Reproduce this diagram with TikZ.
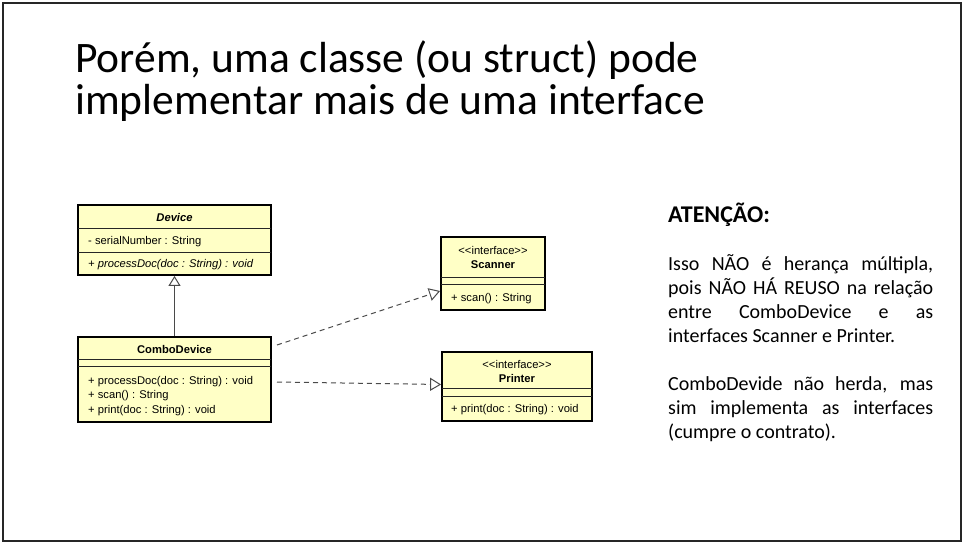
\documentclass[tikz,border=0pt]{standalone}
\usepackage{fontspec}
\setmainfont{Carlito}
\newfontfamily\umlfont{Liberation Sans}
\usetikzlibrary{arrows.meta}
\definecolor{umlfill}{HTML}{FFFFC6}
\definecolor{linkgray}{HTML}{4A4A4A}
\newcommand{\umlsize}{\fontsize{11.2}{13}\selectfont}
\tikzset{
  umlbox/.style={draw=black, line width=1.8pt, fill=umlfill, inner sep=0pt},
  sepline/.style={draw=black!85, line width=0.9pt},
  umltext/.style={font=\umlfont\umlsize, inner sep=0pt},
  umlleft/.style={umltext, anchor=base west},
  umlmid/.style={umltext, anchor=base},
  umlbold/.style={umlmid, font=\umlfont\bfseries\umlsize},
  generalize/.style={draw=linkgray, line width=1pt, -{Triangle[open, length=10pt, width=12pt, fill=white]}},
  realize/.style={draw=linkgray, line width=1pt, dash pattern=on 5pt off 4pt,
    -{Triangle[open, length=11pt, width=13pt, fill=white]}},
  titleline/.style={anchor=base west, inner sep=0pt, font=\fontsize{43.5}{46}\selectfont},
  noteline/.style={anchor=base west, inner sep=0pt, font=\fontsize{20}{24}\selectfont},
}
\newcommand{\just}[1]{\makebox[265pt][s]{#1}}
\begin{document}
\begin{tikzpicture}[x=1pt, y=-1pt]
\useasboundingbox (0,0) rectangle (964,544);
% slide frame
\draw[line width=2pt, draw=black!85] (3,3) rectangle (961,541);

% title
\node[titleline] (title1) at (75,72) {Porém, uma classe (ou struct) pode};
\node[titleline] (title2) at (75,114) {implementar mais de uma interface};

% class Device
\node[umlbox, minimum width=193pt, minimum height=70pt] (device) at (174.5,240) {};
\draw[sepline] (78,228) -- (271,228);
\draw[sepline] (78,252) -- (271,252);
\node[umlmid, font=\umlfont\bfseries\itshape\umlsize] (devname) at (174.5,221) {Device};
\node[umlleft] (devattr) at (88,244) {- serialNumber : String};
\node[umlleft, font=\umlfont\itshape\umlsize] (devop) at (88,267) {+ processDoc(doc : String) : void};

% class ComboDevice
\node[umlbox, minimum width=193pt, minimum height=85pt] (combo) at (174.5,379.5) {};
\draw[sepline] (78,359) -- (271,359);
\draw[sepline] (78,366) -- (271,366);
\node[umlbold] (comboname) at (174.5,353) {ComboDevice};
\node[umlleft] (comboop1) at (88,384) {+ processDoc(doc : String) : void};
\node[umlleft] (comboop2) at (88,398) {+ scan() : String};
\node[umlleft] (comboop3) at (88,413) {+ print(doc : String) : void};

% interface Scanner
\node[umlbox, minimum width=104pt, minimum height=73pt] (scanner) at (493,273.5) {};
\draw[sepline] (441,277) -- (545,277);
\draw[sepline] (441,284) -- (545,284);
\node[umlmid] (scanstereo) at (493,254) {<{}<interface>{}>};
\node[umlbold] (scanname) at (493,268) {Scanner};
\node[umlleft] (scanop) at (451,301) {+ scan() : String};

% interface Printer
\node[umlbox, minimum width=150pt, minimum height=69pt] (printer) at (517,386.5) {};
\draw[sepline] (442,388) -- (592,388);
\draw[sepline] (442,396) -- (592,396);
\node[umlmid] (printstereo) at (517,368) {<{}<interface>{}>};
\node[umlbold] (printname) at (517,382) {Printer};
\node[umlleft] (printop) at (451,412) {+ print(doc : String) : void};

% relations
\draw[generalize] (combo.north) -- (device.south);
\coordinate (toScan) at (277,345);
\coordinate (toPrint) at (277,382);
\draw[realize] (toScan) -- ([yshift=-17.5pt]scanner.west);
\draw[realize] (toPrint) -- ([yshift=2pt]printer.west);

% note on the right
\node[anchor=base west, inner sep=0pt, font=\bfseries\fontsize{24}{29}\selectfont] (attn) at (668,222) {ATENÇÃO:};
\node[noteline] (n1) at (668,270) {\just{Isso NÃO é herança múltipla,}};
\node[noteline] (n2) at (668,294) {\just{pois NÃO HÁ REUSO na relação}};
\node[noteline] (n3) at (668,318) {\just{entre ComboDevice e as}};
\node[noteline] (n4) at (668,342) {interfaces Scanner e Printer.};
\node[noteline] (n5) at (668,390) {\just{ComboDevide não herda, mas}};
\node[noteline] (n6) at (668,414) {\just{sim implementa as interfaces}};
\node[noteline] (n7) at (668,438) {(cumpre o contrato).};
\end{tikzpicture}
\end{document}
